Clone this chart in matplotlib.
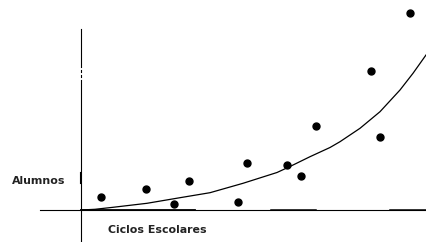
import matplotlib.pyplot as plt

# puntos (ciclo, alumnos)
ciclos = [19.7, 64.7, 93.3, 108.3, 156.7, 166.3, 206, 220.3, 235, 290, 299.3, 329.3]
alumnos = [12.7, 21, 5.7, 28.7, 8, 47.3, 45.3, 33.7, 84.3, 139.3, 72.7, 197.3]

# curva de tendencia
curva_x = [0, 14, 32, 66, 99, 129, 162, 196, 209, 229, 249, 259, 279, 299, 319, 332, 345]
curva_y = [0, 0.7, 2.7, 6.7, 12.3, 17.3, 26.7, 37.5, 43.5, 53.3, 62.5, 68.3, 81.7, 98.3, 120, 136.7, 155]

fig = plt.figure(figsize=(4.26, 2.42), dpi=100)
ax = fig.add_axes([0, 0, 1, 1])
ax.set_xlim(-81, 345)
ax.set_ylim(-32, 210)
ax.axis('off')

# ejes
ax.plot([-41, 345], [0, 0], color='black', lw=0.8)
ax.plot([0, 114], [0, 0], color='black', lw=1.3)
ax.plot([190, 235], [0, 0], color='black', lw=1.1)
ax.plot([309, 345], [0, 0], color='black', lw=1.1)
ax.plot([0, 0], [-32, 130], color='black', lw=0.8)
ax.plot([0, 0], [133, 135], color='black', lw=0.8)
ax.plot([0, 0], [138, 140], color='black', lw=0.8)
ax.plot([0, 0], [143, 181], color='black', lw=0.8)
ax.plot([-1, -1], [27, 38], color='black', lw=0.8)

ax.plot(curva_x, curva_y, color='black', lw=0.9)
ax.plot(ciclos, alumnos, 'o', color='black', markersize=5)

ax.text(-69, 29, 'Alumnos', fontsize=7.9, fontweight='bold', color='#222222', ha='left', va='center')
ax.text(27, -20, 'Ciclos Escolares', fontsize=7.9, fontweight='bold', color='#222222', ha='left', va='center')

plt.savefig('out.png', dpi=100)
